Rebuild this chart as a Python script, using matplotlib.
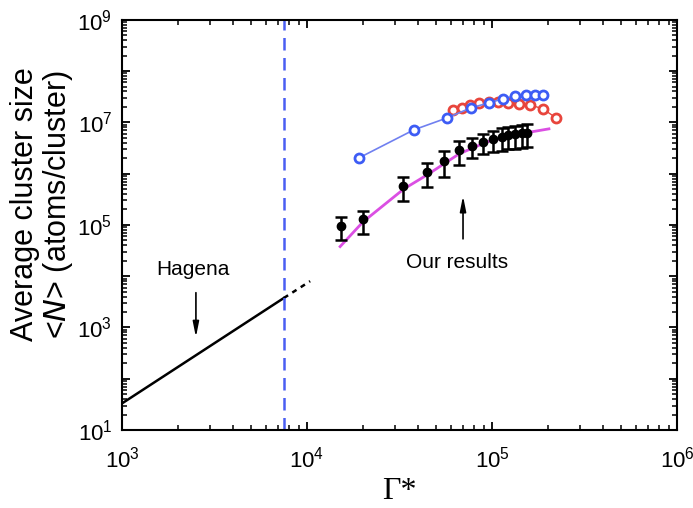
import matplotlib
matplotlib.use("Agg")
import matplotlib.pyplot as plt
import matplotlib.ticker as mticker
import numpy as np

plt.rcParams['font.family'] = ['Liberation Sans', 'DejaVu Sans']
plt.rcParams['mathtext.default'] = 'regular'

# blue open circles (with line)
blue_x = [19100, 37800, 57100, 76900, 96400, 114600, 133000, 152600, 170800, 188600]
blue_y = [2.03e6, 7.15e6, 1.22e7, 1.92e7, 2.40e7, 2.88e7, 3.29e7, 3.44e7, 3.44e7, 3.44e7]

# red open circles (with line)
red_x = [61500, 68800, 76100, 85100, 96400, 107800, 121900, 139900, 160400, 188600, 222000]
red_y = [1.75e7, 1.92e7, 2.19e7, 2.40e7, 2.45e7, 2.45e7, 2.40e7, 2.25e7, 2.20e7, 1.83e7, 1.22e7]

# our results, black points with error bars
our_x = [15200, 20200, 33200, 44400, 55100, 66500, 77600, 89100, 101000, 112800, 122400, 133100, 144700, 155300]
our_y = [9.7e4, 1.29e5, 5.8e5, 1.07e6, 1.80e6, 2.9e6, 3.47e6, 4.17e6, 4.77e6, 5.21e6, 5.57e6, 5.83e6, 6.10e6, 6.24e6]
our_err = [4.7e4, 6.2e4, 2.85e5, 5.2e5, 9.5e5, 1.4e6, 1.45e6, 1.8e6, 2.1e6, 2.4e6, 2.6e6, 2.8e6, 2.9e6, 3.0e6]

# fit curve (magenta)
fit_x = [15100, 20100, 33400, 44600, 66400, 94000, 141600, 203000]
fit_y = [3.78e4, 1.15e5, 5.04e5, 9.46e5, 2.43e6, 4.17e6, 5.98e6, 7.47e6]

# Hagena scaling
hag_x = [1e3, 7.5e3]
hag_y = [33, 3760]
hag_ext_x = [7.5e3, 1.04e4]
hag_ext_y = [3760, 8000]

gamma_limit = 7.5e3

fig = plt.figure(figsize=(6.93, 5.08), dpi=100)
ax = fig.add_axes([0.176, 0.1535, 0.801, 0.8075])

ax.plot(hag_x, hag_y, color='black', lw=1.8)
ax.plot(hag_ext_x, hag_ext_y, color='black', lw=1.8, ls=(0, (2, 2)))
ax.axvline(gamma_limit, color='#4a5ef2', lw=1.8, ls=(0, (5, 3)))

ax.plot(fit_x, fit_y, color='#db4fe3', lw=2, zorder=2)

ax.errorbar(our_x, our_y, yerr=our_err, fmt='o', color='black', ms=6,
            capsize=4, capthick=1.8, elinewidth=1.8, zorder=3)

ax.plot(red_x, red_y, color='#e8453c', lw=1, marker='o', ms=6.5, mfc='white',
        mec='#e8453c', mew=2, zorder=4)
ax.plot(blue_x, blue_y, color='#7080f0', lw=1.2, marker='o', ms=6.5, mfc='white',
        mec='#3d5cf5', mew=2, zorder=5)

arrow = dict(arrowstyle='-|>,head_width=0.18,head_length=0.9', color='black', lw=1.2)
ax.annotate('', xy=(2510, 570), xytext=(2510, 5400), arrowprops=arrow)
ax.text(2420, 13250, 'Hagena', ha='center', va='center', fontsize=15)
ax.annotate('', xy=(69700, 4.16e5), xytext=(69700, 4.72e4), arrowprops=arrow)
ax.text(64700, 18150, 'Our results', ha='center', va='center', fontsize=15)

ax.set_xscale('log')
ax.set_yscale('log')
ax.set_xlim(1e3, 1e6)
ax.set_ylim(1e1, 1e9)

ax.yaxis.set_major_locator(mticker.FixedLocator([10.0 ** k for k in range(1, 10)]))
ax.yaxis.set_major_formatter(mticker.FuncFormatter(
    lambda v, p: '$10^{%d}$' % round(np.log10(v)) if round(np.log10(v)) % 2 == 1 else ''))
ax.yaxis.set_minor_locator(mticker.LogLocator(base=10, subs=np.arange(2, 10), numticks=20))
ax.yaxis.set_minor_formatter(mticker.NullFormatter())
ax.xaxis.set_major_locator(mticker.FixedLocator([1e3, 1e4, 1e5, 1e6]))
ax.xaxis.set_major_formatter(mticker.FuncFormatter(lambda v, p: '$10^{%d}$' % round(np.log10(v))))
ax.xaxis.set_minor_locator(mticker.LogLocator(base=10, subs=np.arange(2, 10), numticks=20))
ax.xaxis.set_minor_formatter(mticker.NullFormatter())

ax.tick_params(which='both', direction='in', top=True, right=True, labelsize=16)
ax.tick_params(which='major', length=6, width=1.3)
ax.tick_params(which='minor', length=3.5, width=1.1)
ax.tick_params(axis='x', which='major', pad=12)
ax.tick_params(axis='y', which='major', pad=7)
for s in ax.spines.values():
    s.set_linewidth(1.5)

ax.set_ylabel('Average cluster size\n<$\\it{N}$> (atoms/cluster)', fontsize=22, linespacing=1.05)
ax.yaxis.set_label_coords(-0.085, 0.55)
ax.set_xlabel('Γ*', fontsize=23, family=['Liberation Serif', 'DejaVu Serif'], labelpad=3)

fig.savefig('out.png', dpi=100)
